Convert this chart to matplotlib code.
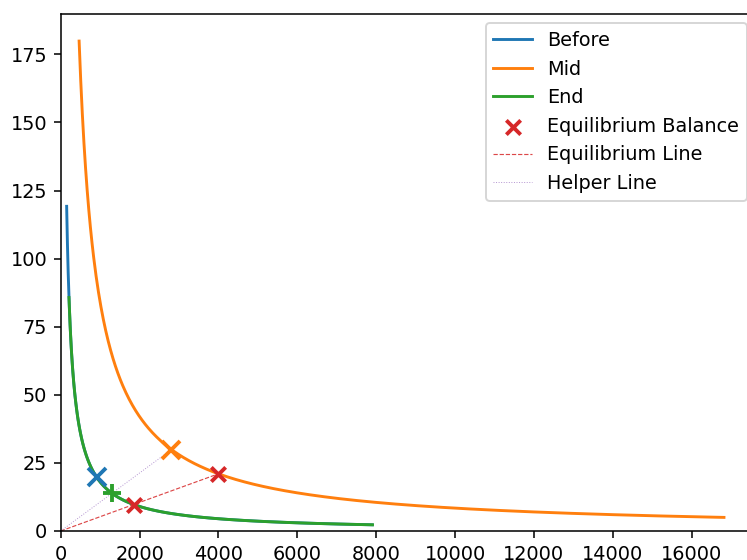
import numpy as np
import matplotlib
matplotlib.use("Agg")
import matplotlib.pyplot as plt

# Constant-product invariants (x * y = k)
curve_names = ["Before", "Mid", "End"]
curve_k = [18000, 84000, 18000]
curve_x_start = [151, 467, 210]
curve_x_end = [7900, 16820, 7907]
curve_colors = ["tab:blue", "tab:orange", "tab:green"]

# Point markers on each curve
point_x = [913, 2808, 1300]
point_y = [19.7, 29.9, 13.85]
point_markers = ["x", "x", "+"]

# Equilibrium balances
eq_x = [4000, 1852]
eq_y = [21.0, 9.72]

# Helper line end point
helper_x = [0, 2808]
helper_y = [0, 29.9]

DPI = 139
fig = plt.figure(figsize=(747 / DPI, 560 / DPI), dpi=DPI)
ax = fig.add_axes([60.7 / 747, 29 / 560, 696 / 747, 517.5 / 560])

for name, k, x0, x1, c in zip(curve_names, curve_k, curve_x_start, curve_x_end, curve_colors):
    xs = np.linspace(x0, x1, 800)
    ax.plot(xs, k / xs, color=c, lw=1.5, label=name)

for px, py, m, c in zip(point_x, point_y, point_markers, curve_colors):
    ax.plot(px, py, marker=m, color=c, ms=9, mew=2, ls="none", zorder=4)

ax.scatter(eq_x, eq_y, marker="x", color="tab:red", s=55, linewidths=2,
           zorder=5, label="Equilibrium Balance")
ax.plot([0, eq_x[0]], [0, eq_y[0]], color="tab:red", ls="--", lw=0.6,
        alpha=0.85, label="Equilibrium Line")
ax.plot(helper_x, helper_y, color="tab:purple", ls=":", lw=0.5,
        alpha=0.7, label="Helper Line")

ax.set_xlim(0, 17650)
ax.set_ylim(0, 190)
ax.set_xticks(np.arange(0, 17000, 2000))
ax.set_yticks(np.arange(0, 176, 25))
ax.legend(loc="upper right")

fig.savefig("out.png", dpi=DPI)
